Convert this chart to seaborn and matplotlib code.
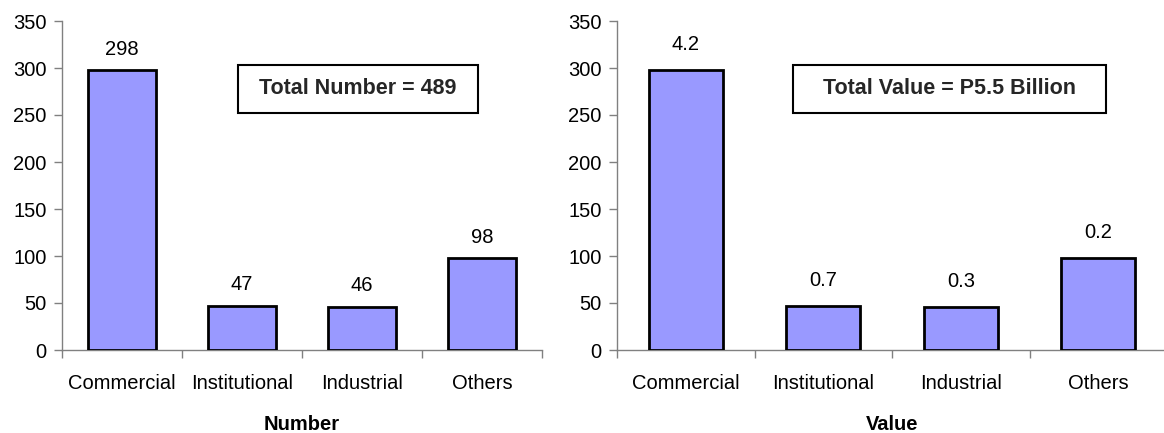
import matplotlib
matplotlib.use("Agg")
import matplotlib.pyplot as plt
import seaborn as sns
import pandas as pd

categories = ["Commercial", "Institutional", "Industrial", "Others"]
number_values = [298, 47, 46, 98]
number_labels = ["298", "47", "46", "98"]
value_heights = [298, 47, 46, 98]
value_labels = ["4.2", "0.7", "0.3", "0.2"]
yticks = [0, 50, 100, 150, 200, 250, 300, 350]
number_title = "Number"
value_title = "Value"
number_box = "Total Number = 489"
value_box = "Total Value = P5.5 Billion"

sns.set_theme(style="white")
plt.rcParams["font.family"] = ["Liberation Sans", "DejaVu Sans"]

W, H = 1164, 433
fig = plt.figure(figsize=(W / 100, H / 100), dpi=100)

BAR = "#9999FF"
GRAY = "#808080"
FS = 14.5


def panel(rect, heights, labels, title, boxtext, box_rect, width, lab_off):
    ax = fig.add_axes(rect)
    df = pd.DataFrame({"cat": categories, "val": heights})
    sns.barplot(data=df, x="cat", y="val", ax=ax, color=BAR, saturation=1,
                width=width, edgecolor="black", linewidth=2, zorder=3)
    ax.set_xlim(-0.5, 3.5)
    ax.set_ylim(0, 350)
    ax.set_yticks(yticks)
    ax.set_yticklabels([str(t) for t in yticks], fontsize=FS, color="black")
    ax.set_xticks(range(len(categories)))
    ax.set_xticklabels(categories, fontsize=FS, color="black")
    ax.tick_params(axis="x", which="major", bottom=True, length=0, pad=17)
    ax.set_xticks([-0.5, 0.5, 1.5, 2.5, 3.5], minor=True)
    ax.tick_params(axis="x", which="minor", bottom=True, length=6, color=GRAY,
                   width=1, direction="out")
    ax.tick_params(axis="y", which="major", left=True, length=6, color=GRAY,
                   width=1, direction="out", pad=5)
    for s in ["top", "right"]:
        ax.spines[s].set_visible(False)
    for s in ["left", "bottom"]:
        ax.spines[s].set_color(GRAY)
        ax.spines[s].set_linewidth(1)
    ax.set_xlabel(title, fontsize=FS, fontweight="bold", color="black", va="center")
    ax.xaxis.set_label_coords(0.5, (350 - 424) / 329)
    ax.set_ylabel("")
    for i, (h, lab) in enumerate(zip(heights, labels)):
        ax.annotate(lab, xy=(i, h), xytext=(0, lab_off), textcoords="offset points",
                    ha="center", va="center", fontsize=FS, color="black")
    bx0, by0, bx1, by1 = box_rect
    fig.text((bx0 + bx1) / 2 / W, 1 - (by0 + by1) / 2 / H, boxtext,
             ha="center", va="center", fontsize=15.5, fontweight="bold")
    fig.patches.append(matplotlib.patches.Rectangle(
        (bx0 / W, 1 - by1 / H), (bx1 - bx0) / W, (by1 - by0) / H,
        transform=fig.transFigure, fill=False, edgecolor="black", linewidth=1.5))
    return ax


bottom = (H - 350) / H
height = 329 / H
panel([62 / W, bottom, 480 / W, height], number_values, number_labels,
      number_title, number_box, (238, 65, 478, 113), 0.57, 15)
panel([617 / W, bottom, 550 / W, height], value_heights, value_labels,
      value_title, value_box, (793, 65, 1106, 113), 0.54, 18)

fig.savefig("out.png", dpi=100)
